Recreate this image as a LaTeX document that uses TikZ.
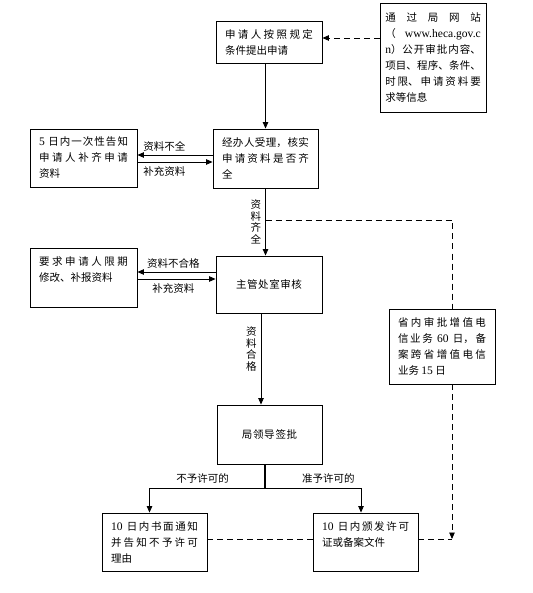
\documentclass[tikz,border=0pt]{standalone}
\usepackage{fontspec}
\setmainfont{Noto Sans CJK SC}
\newfontfamily\lat[Scale=1.1]{Liberation Serif}
\usetikzlibrary{arrows.meta}
\XeTeXlinebreaklocale "zh"
\XeTeXlinebreakskip=0pt plus 1pt
\tolerance=10000
\hbadness=10000

\begin{document}
\begin{tikzpicture}[x=1pt,y=-1pt,
  blk/.style={draw,line width=0.9pt,inner xsep=9pt,inner ysep=0pt,align=justify,font=\fontsize{10.5}{16}\selectfont},
  lbl/.style={inner sep=1pt,font=\fontsize{10.5}{12}\selectfont},
  vlbl/.style={inner sep=0pt,align=center,font=\fontsize{10.5}{11.5}\selectfont},
  arr/.style={line width=0.8pt,-{Triangle[length=6.5pt,width=5.5pt]}},
  dsh/.style={line width=0.9pt,dash pattern=on 6pt off 4pt}]
\useasboundingbox (0,0) rectangle (532,593);
% boxes
\node[blk,text width=88pt,minimum height=42pt] (apply) at (269,42) {申请人按照规定\linebreak 条件提出申请};
\node[blk,text width=95.5pt,inner xsep=5.25pt,minimum height=109pt] (web) at (433,57.5) {通过局网站\linebreak （ {\lat www.heca.gov.c}\linebreak{\lat n}）公开审批内容、\linebreak 项目、程序、条件、\linebreak 时限、申请资料要\linebreak 求等信息};
\node[blk,text width=89pt,minimum height=58pt] (notify) at (83.5,158) {{\lat 5} 日内一次性告知\linebreak 申请人补齐申请\linebreak 资料};
\node[blk,text width=87pt,minimum height=59pt] (accept) at (265.5,158.5) {经办人受理，核实\linebreak 申请资料是否齐\linebreak 全};
\node[blk,text width=89pt,minimum height=59pt] (revise) at (83.5,277.5) {要求申请人限期\linebreak 修改、补报资料\\\mbox{}};
\node[blk,text width=88pt,minimum height=57pt,align=center] (review) at (269,284.5) {主管处室审核};
\node[blk,text width=88pt,minimum height=75pt] (term) at (442,346.5) {省内审批增值电\linebreak 信业务 {\lat 60} 日，备\linebreak 案跨省增值电信\linebreak 业务 {\lat 15} 日};
\node[blk,text width=87pt,minimum height=59pt,align=center] (sign) at (269.5,434.5) {局领导签批};
\node[blk,text width=87pt,minimum height=58pt] (refuse) at (154.5,542) {{\lat 10} 日内书面通知\linebreak 并告知不予许可\linebreak 理由};
\node[blk,text width=87pt,minimum height=58pt] (grant) at (365.5,542) {{\lat 10} 日内颁发许可\linebreak 证或备案文件\\\mbox{}};
% main flow
\draw[arr] (accept.north |- apply.south) -- (accept.north);
\draw[arr,dsh] ([yshift=4pt]apply.east -| web.west) -- ([yshift=4pt]apply.east);
\draw[arr] ([yshift=3.5pt]accept.west) -- ([yshift=3.5pt]accept.west -| notify.east) node[lbl,above=2pt,pos=0.64] {资料不全};
\draw[arr] ([yshift=-3.5pt]accept.west -| notify.east) -- ([yshift=-3.5pt]accept.west) node[lbl,below=3pt,pos=0.36] {补充资料};
\draw[arr] (accept.south) -- (accept.south |- review.north) node[vlbl,midway,left=4pt] {资\\料\\齐\\全};
\draw[arr] ([yshift=5.5pt]revise.east -| review.west) -- ([yshift=5.5pt]revise.east) node[lbl,above=2pt,pos=0.54] {资料不合格};
\draw[arr] ([yshift=-1.5pt]revise.east) -- ([yshift=-1.5pt]revise.east -| review.west) node[lbl,below=3pt,pos=0.46] {补充资料};
\draw[arr] ([xshift=-8pt]review.south) -- ([xshift=-8pt]review.south |- sign.north) node[vlbl,pos=0.39,left=4pt] {资\\料\\合\\格};
% decision
\coordinate (br) at (265,488);
\draw[line width=1.8pt] (br |- sign.south) -- (br);
\draw[arr] (br) -| ([xshift=-5pt]refuse.north) node[lbl,above=3pt,pos=0.27] {不予许可的};
\draw[arr] (br) -| ([xshift=-4.5pt]grant.north) node[lbl,above=3pt,pos=0.33] {准予许可的};
% time limit branch
\coordinate (jr) at (452,220);
\coordinate (jd) at ([yshift=3pt]grant.east);
\draw[dsh] (jr -| accept.south) -- (jr) -- (jr |- term.north);
\draw[arr,dsh] (jr |- term.south) -- (jr |- jd);
\draw[dsh] (jd) -- (jr |- jd);
\draw[dsh] ([yshift=3pt]refuse.east) -- ([yshift=3pt]grant.west);
\end{tikzpicture}
\end{document}
